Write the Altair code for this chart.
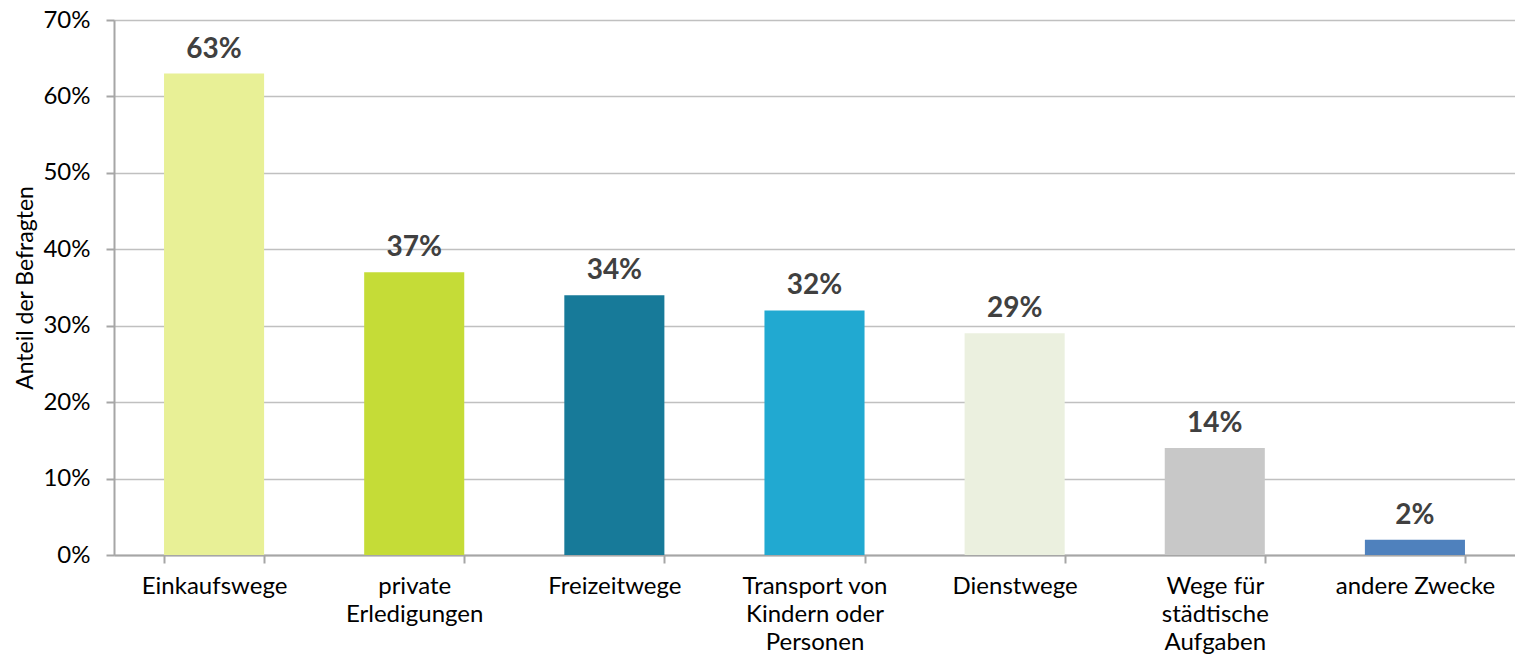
import altair as alt
import pandas as pd

categories = ["Einkaufswege", "private|Erledigungen", "Freizeitwege",
              "Transport von|Kindern oder|Personen", "Dienstwege",
              "Wege für|städtische|Aufgaben", "andere Zwecke"]
values = [0.63, 0.37, 0.34, 0.32, 0.29, 0.14, 0.02]
colors = ["#E8F096", "#C5DC37", "#177A99", "#21A9D1", "#EBF0DF", "#C8C8C8", "#4F81BD"]
labels = ["63%", "37%", "34%", "32%", "29%", "14%", "2%"]

df = pd.DataFrame({"cat": categories, "val": values, "col": colors, "lab": labels})

FONT = "Lato"

x = alt.X("cat:N", sort=categories, title=None,
          scale=alt.Scale(paddingInner=0.5, paddingOuter=0.25),
          axis=alt.Axis(labelExpr="datum.value ? split(datum.value, '|') : ''", labelAngle=0,
                        labelFontSize=24, labelFont=FONT, labelColor="#000000",
                        labelLineHeight=28, labelPadding=11, labelBaseline="top",
                        tickBand="extent", tickSize=8, tickColor="#A6A6A6", tickWidth=2,
                        domainColor="#A6A6A6", domainWidth=2, grid=False))

y = alt.Y("val:Q", title="Anteil der Befragten",
          scale=alt.Scale(domain=[0, 0.7], nice=False),
          axis=alt.Axis(values=[0, 0.1, 0.2, 0.3, 0.4, 0.5, 0.6, 0.7], format=".0%",
                        labelFontSize=24, labelFont=FONT, labelColor="#000000",
                        labelPadding=16, tickSize=8, tickColor="#A6A6A6", tickWidth=2,
                        domainColor="#A6A6A6", domainWidth=2,
                        grid=True, gridColor="#C0C0C0", gridWidth=1.5,
                        titleFont=FONT, titleFontSize=23, titleFontWeight="normal",
                        titleColor="#000000", titlePadding=5))

bars = alt.Chart(df).mark_bar().encode(
    x=x, y=y, color=alt.Color("col:N", scale=None))

text = alt.Chart(df).mark_text(dy=-10, baseline="bottom", font=FONT, fontSize=28,
                               fontWeight="bold", color="#404040").encode(
    x=alt.X("cat:N", sort=categories), y="val:Q", text="lab:N")

chart = (bars + text).properties(
    width=1401, height=535,
    autosize=alt.AutoSizeParams(type="none"),
    padding={"left": 106, "top": 12, "right": 0, "bottom": 103}
).configure_view(stroke=None).configure(background="white")

chart.save("out.html", embed_options={"renderer": "svg", "actions": False})
